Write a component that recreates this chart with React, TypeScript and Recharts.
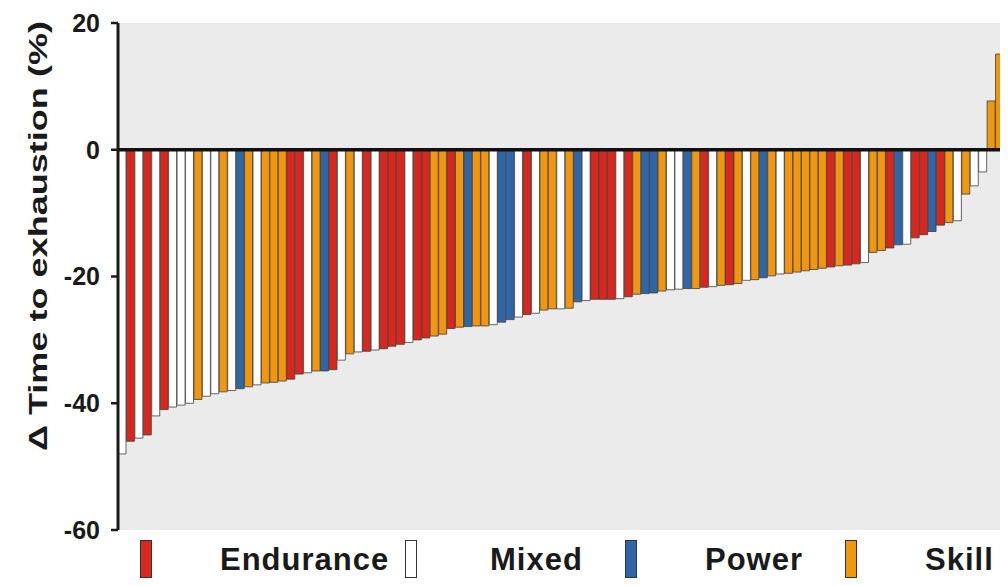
import { Bar, BarChart, CartesianGrid, Cell, ReferenceLine, XAxis, YAxis } from "recharts";

type Group = "E" | "M" | "P" | "S";

// one entry per athlete, sorted by change
const groups: Group[] = [
  "M", "E", "M", "E", "M", "E", "M", "M", "M", "S",
  "M", "M", "S", "M", "P", "S", "M", "S", "S", "S",
  "E", "E", "M", "S", "P", "E", "M", "S", "M", "E",
  "M", "E", "E", "E", "M", "E", "E", "S", "S", "E",
  "S", "P", "S", "S", "M", "P", "P", "M", "E", "M",
  "S", "S", "M", "S", "P", "M", "E", "E", "E", "M",
  "E", "S", "P", "P", "S", "M", "M", "P", "S", "E",
  "M", "S", "E", "S", "M", "S", "P", "S", "M", "S",
  "S", "S", "S", "S", "E", "S", "E", "E", "M", "S",
  "S", "E", "P", "M", "E", "E", "P", "E", "S", "M",
  "S", "M", "M", "S", "S",
];

const changes: number[] = [
  -48, -46, -45.5, -45, -42, -41, -40.6, -40.3, -40, -39.4,
  -38.9, -38.5, -38.2, -38, -37.7, -37.4, -37.1, -36.8, -36.7, -36.5,
  -36.2, -35.4, -35.2, -34.9, -34.9, -34.7, -33.2, -32.2, -31.9, -31.8,
  -31.6, -31.4, -31, -30.7, -30.4, -30, -29.7, -29.4, -29.1, -28.2,
  -28, -27.9, -27.8, -27.8, -27.6, -27.2, -26.8, -26.4, -26, -25.8,
  -25.3, -25.1, -25.1, -25, -24, -23.8, -23.6, -23.6, -23.6, -23.5,
  -23.2, -22.8, -22.7, -22.6, -22.3, -22.1, -22, -21.9, -21.9, -21.7,
  -21.6, -21.4, -21.3, -21.1, -20.6, -20.5, -20.2, -19.9, -19.6, -19.5,
  -19.3, -19.1, -18.9, -18.7, -18.5, -18.3, -18.2, -18, -17.8, -16.2,
  -15.9, -15.5, -15, -14.9, -13.9, -13.4, -12.9, -11.9, -11.5, -11.2,
  -7, -5.7, -3.5, 7.7, 15.1,
];

const yTicks = [-60, -40, -20, 0, 20];

const legendGroups: Group[] = ["E", "M", "P", "S"];
const legendLabels = ["Endurance", "Mixed", "Power", "Skill"];

const groupColors: Record<Group, string> = {
  E: "#d9271d",
  M: "#ffffff",
  P: "#2f66a8",
  S: "#f1960f",
};

const font = "'Liberation Sans', Arial, sans-serif";

const data = changes.map((value, i) => ({ id: i + 1, value, group: groups[i] }));

const swatchLeft = [132, 397, 617, 837];
const textLeft = [212, 482, 697, 917];

function AxisTitle() {
  return (
    <text
      x={30}
      y={228}
      transform="rotate(-90, 30, 228)"
      textAnchor="middle"
      dominantBaseline="central"
      fontFamily={font}
      fontWeight="bold"
      fontSize={25}
      fill="#1a1a1a"
      textLength={430}
      lengthAdjust="spacingAndGlyphs"
    >
      Δ Time to exhaustion  (%)
    </text>
  );
}

export default function App() {
  return (
    <div style={{ position: "relative", width: 992, height: 570, background: "#fff" }}>
      <BarChart
        width={996}
        height={570}
        data={data}
        margin={{ top: 15, right: 0, left: 0, bottom: 48 }}
        barCategoryGap={0}
      >
        <CartesianGrid fill="#ebebeb" horizontal={false} vertical={false} />
        <XAxis dataKey="id" hide />
        <YAxis
          width={110}
          domain={[-60, 20]}
          ticks={yTicks}
          allowDataOverflow
          axisLine={{ stroke: "#1a1a1a", strokeWidth: 3 }}
          tickLine={{ stroke: "#1a1a1a", strokeWidth: 2.5 }}
          tickSize={7}
          tickMargin={11}
          tick={{ fontFamily: font, fontWeight: "bold", fontSize: 25, fill: "#1a1a1a" }}
          label={<AxisTitle />}
        />
        <Bar dataKey="value" isAnimationActive={false} stroke="#3f3f3f" strokeWidth={0.8}>
          {data.map((d) => (
            <Cell key={d.id} fill={groupColors[d.group]} />
          ))}
        </Bar>
        <ReferenceLine y={0} stroke="#111" strokeWidth={3.5} />
      </BarChart>
      {legendGroups.map((g, i) => (
        <div key={g}>
          <div
            style={{
              position: "absolute",
              left: swatchLeft[i],
              top: 532,
              width: 10,
              height: 36,
              background: groupColors[g],
              border: "1.5px solid #333",
            }}
          />
          <div
            style={{
              position: "absolute",
              left: textLeft[i],
              top: 534,
              height: 36,
              lineHeight: "36px",
              fontFamily: font,
              fontWeight: "bold",
              fontSize: 31,
              color: "#1a1a1a",
              letterSpacing: 1,
            }}
          >
            {legendLabels[i]}
          </div>
        </div>
      ))}
    </div>
  );
}
